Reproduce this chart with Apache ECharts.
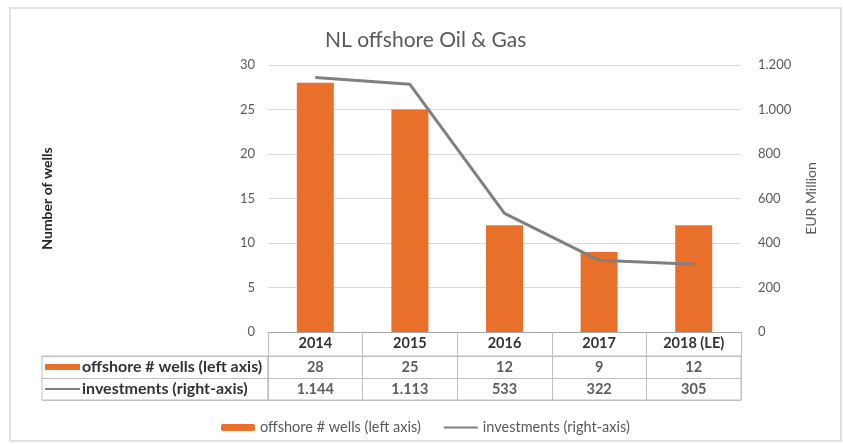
<!DOCTYPE html>
<html>
<head>
<meta charset="utf-8">
<script src="https://cdn.jsdelivr.net/npm/echarts@6/dist/echarts.min.js"></script>
<style>html,body{margin:0;padding:0;background:#fff;}#c{width:843px;height:444px;}</style>
</head>
<body>
<div id="c"></div>
<script>
const categories = ['2014', '2015', '2016', '2017', '2018 (LE)'];
const wells = [28, 25, 12, 9, 12];
const investments = [1144, 1113, 533, 322, 305];
const seriesNames = ['offshore # wells (left axis)', 'investments (right-axis)'];
const tableRows = ['wells', 'investments'];
const chartTitle = 'NL offshore Oil & Gas';
const leftAxisName = 'Number of wells';
const rightAxisName = 'EUR Million';

const ORANGE = '#E8702A';
const GREY = '#808080';
const FONT = 'Lato';
const fmt = n => String(n).replace(/\B(?=(\d{3})+(?!\d))/g, '.');

const tableData = [];
categories.forEach((c, i) => {
  tableData.push([c, tableRows[0], wells[i]]);
  tableData.push([c, tableRows[1], investments[i]]);
});

const chart = echarts.init(document.getElementById('c'));
chart.setOption({
  animation: false,
  textStyle: { fontFamily: FONT },
  title: {
    text: chartTitle, left: 320, top: 25,
    textStyle: { fontFamily: FONT, fontSize: 21, fontWeight: 'normal', color: '#595959' }
  },
  graphic: [{
    type: 'rect', shape: { x: 10, y: 8, width: 831, height: 433 },
    style: { fill: 'none', stroke: '#d9d9d9', lineWidth: 1.5 }, silent: true
  }],
  legend: {
    data: [
      { name: seriesNames[0] },
      { name: seriesNames[1], itemStyle: { opacity: 0 } }
    ],
    left: 216, top: 415, itemWidth: 34, itemHeight: 7, itemGap: 22,
    textStyle: { fontFamily: FONT, fontSize: 14.5, color: '#595959' }
  },
  grid: [
    { left: 268, right: 102, top: 65, height: 267 },
    { left: 268, right: 102, top: 356, height: 44, show: true, borderColor: '#bfbfbf', borderWidth: 1 },
    { left: 42, width: 226, top: 356, height: 44, show: true, borderColor: '#bfbfbf', borderWidth: 1 }
  ],
  xAxis: [
    {
      type: 'category', gridIndex: 0, data: categories,
      axisLine: { lineStyle: { color: '#a6a6a6' } },
      axisTick: { show: true, length: 24, interval: 0, lineStyle: { color: '#bfbfbf' } },
      axisLabel: { interval: 0, margin: 4, fontSize: 14.5, color: '#333', fontWeight: 'bold', fontFamily: FONT }
    },
    {
      type: 'category', gridIndex: 1, data: categories,
      axisLine: { show: false }, axisTick: { show: false }, axisLabel: { show: false },
      splitLine: { show: true, interval: 0, lineStyle: { color: '#bfbfbf' } }
    },
    {
      type: 'value', gridIndex: 2, min: 0, max: 1, show: false
    }
  ],
  yAxis: [
    {
      type: 'value', gridIndex: 0, min: 0, max: 30, interval: 5,
      name: leftAxisName, nameLocation: 'middle', nameGap: 214, nameRotate: 90,
      nameTextStyle: { fontFamily: FONT, fontSize: 14, fontWeight: 'bold', color: '#262626' },
      axisLine: { show: false }, axisTick: { show: false },
      axisLabel: { margin: 13, fontSize: 13, color: '#595959', fontFamily: FONT },
      splitLine: { lineStyle: { color: '#d9d9d9' } }
    },
    {
      type: 'value', gridIndex: 0, min: 0, max: 1200, interval: 200, position: 'right',
      name: rightAxisName, nameLocation: 'middle', nameGap: 63, nameRotate: 90,
      nameTextStyle: { fontFamily: FONT, fontSize: 14, color: '#595959' },
      axisLine: { show: false }, axisTick: { show: false }, splitLine: { show: false },
      axisLabel: { margin: 17, fontSize: 13, color: '#595959', fontFamily: FONT, formatter: v => fmt(v) }
    },
    {
      type: 'category', gridIndex: 1, data: tableRows, inverse: true,
      axisLine: { show: false }, axisTick: { show: false }, axisLabel: { show: false },
      splitLine: { show: true, interval: 0, lineStyle: { color: '#bfbfbf' } }
    },
    {
      type: 'category', gridIndex: 2, data: seriesNames, inverse: true,
      axisLine: { show: false }, axisTick: { show: false },
      splitLine: { show: true, interval: 0, lineStyle: { color: '#bfbfbf' } },
      axisLabel: {
        inside: true, margin: 3, interval: 0,
        formatter: (v, i) => (i === 0 ? '{bar|}' : '{line|}') + '{t|' + v + '}',
        rich: {
          bar: { width: 35, height: 6, backgroundColor: ORANGE },
          line: { width: 35, height: 2, backgroundColor: GREY },
          t: { fontFamily: FONT, fontSize: 16, fontWeight: 'bold', color: '#333', padding: [0, 0, 0, 2] }
        }
      }
    }
  ],
  series: [
    {
      name: seriesNames[0], type: 'bar', xAxisIndex: 0, yAxisIndex: 0,
      data: wells, barWidth: 37, itemStyle: { color: ORANGE }
    },
    {
      name: seriesNames[1], type: 'line', xAxisIndex: 0, yAxisIndex: 1,
      data: investments, symbol: 'none', lineStyle: { color: GREY, width: 3 }, itemStyle: { color: GREY }
    },
    {
      name: 'table', type: 'scatter', xAxisIndex: 1, yAxisIndex: 2,
      data: tableData, symbolSize: 1, itemStyle: { color: 'rgba(0,0,0,0)' },
      label: {
        show: true, position: 'inside', formatter: p => fmt(p.value[2]),
        fontFamily: FONT, fontSize: 14.5, fontWeight: 'bold', color: '#333'
      },
      silent: true
    }
  ]
});
</script>
</body>
</html>
